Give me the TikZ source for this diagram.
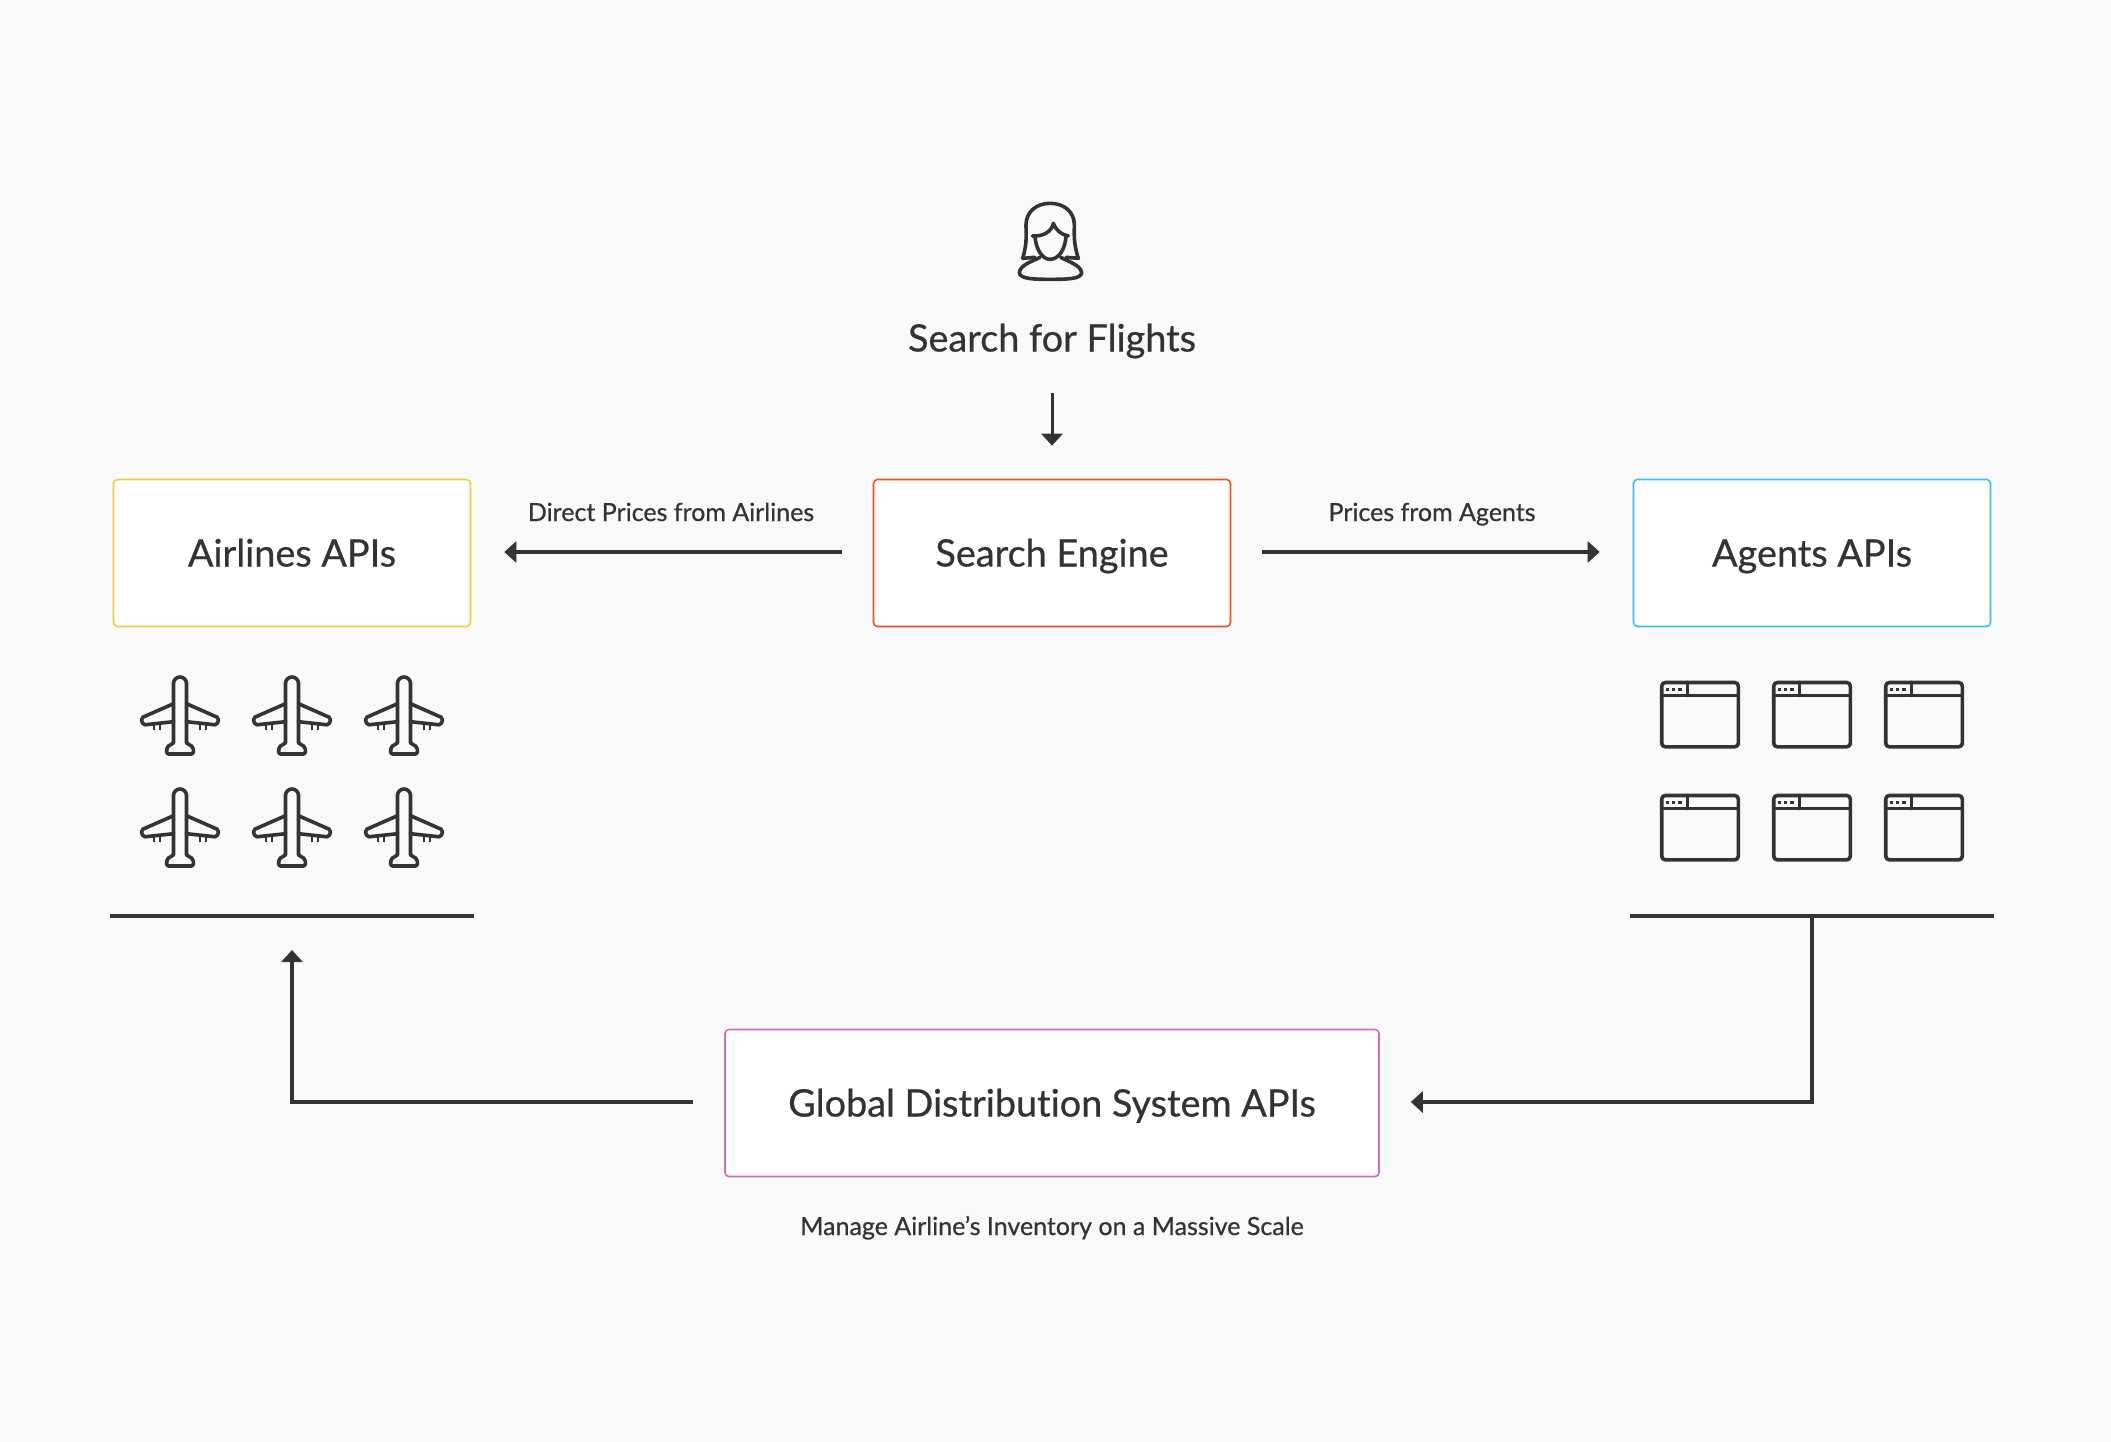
\documentclass[tikz,border=0pt]{standalone}
\usepackage{fontspec}
\setmainfont{Lato}
\newfontfamily\labelfont[RawFeature={embolden=0.6;-liga}]{Lato}
\usetikzlibrary{arrows.meta}
\definecolor{bg}{HTML}{F9F9F9}
\definecolor{ink}{HTML}{333333}
\definecolor{cyel}{HTML}{F0C93C}
\definecolor{cred}{HTML}{F04E23}
\definecolor{cblu}{HTML}{3DBDF0}
\definecolor{cmag}{HTML}{C96FBC}
\tikzset{
  x=1pt,y=-1pt,
  apibox/.style={draw,fill=white,line width=1.6pt,rounded corners=4pt,minimum width=357pt,minimum height=147pt,inner sep=0pt,text=ink,text height=27pt,text depth=0pt,font=\labelfont\fontsize{37.8}{42}\selectfont},
  heading/.style={text=ink,inner sep=0pt,text height=27pt,text depth=0pt,font=\labelfont\fontsize{37.8}{42}\selectfont},
  small/.style={text=ink,inner sep=0pt,text height=18pt,text depth=0pt,font=\labelfont\fontsize{25}{30}\selectfont},
  conn/.style={draw=ink,line width=4pt},
  arrowed/.style={conn,-{Triangle[length=12pt,width=21pt]}},
  ruleline/.style={draw=ink,line width=4pt},
  icon/.style={draw=ink,line width=3.6pt,line join=round,line cap=round},
  planeicon/.pic={
    \draw[icon,rounded corners=2pt] (-6.5,26.7) -- (-39,41) -- (-37,48) -- (-6.5,44.7);
    \draw[icon,rounded corners=2pt] (6.5,26.7) -- (39,41) -- (37,48) -- (6.5,44.7);
    \draw[icon] (-6.5,66) -- (-6.5,6.5) arc[start angle=180,end angle=360,radius=6.5] -- (6.5,66);
    \draw[icon,rounded corners=2pt] (-6.5,66) -- (-13.3,70) -- (-13.3,77) -- (13.3,77) -- (13.3,70) -- (6.5,66);
    \foreach \t in {-26,-20,20,26} \draw[icon,line width=2.6pt,line cap=butt] (\t,48) -- (\t,53);
  },
  windowicon/.pic={
    \draw[icon,rounded corners=3.5pt] (0,0) rectangle (76.6,64.3);
    \draw[icon] (0,13) -- (76.6,13);
    \draw[icon] (25.6,0) -- (25.6,13);
    \foreach \t in {6,12,18.3} \fill[ink] (\t-1.6,5) rectangle (\t+1.6,8.2);
  },
}
\begin{document}
\begin{tikzpicture}
\useasboundingbox[fill=bg] (0,0) rectangle (2111,1442);
% person
\begin{scope}[shift={(990,180)},x=0.3333pt,y=-0.3333pt]
  \draw[icon] (98,235) .. controls (112,190) and (108,160) .. (108,135) .. controls (108,95) and (140,70) .. (180,70) .. controls (222,70) and (253,95) .. (253,135) .. controls (253,160) and (250,190) .. (265,235) -- (228,232);
  \draw[icon] (98,235) -- (135,232);
  \draw[icon] (127,168) .. controls (160,170) and (185,155) .. (190,130) .. controls (197,150) and (215,165) .. (235,168);
  \draw[icon] (135,172) .. controls (140,215) and (160,238) .. (180,238) .. controls (205,238) and (225,210) .. (228,170);
  \draw[icon] (150,232) .. controls (125,245) and (90,255) .. (88,278) .. controls (88,298) and (140,298) .. (180,298) .. controls (225,298) and (275,298) .. (275,278) .. controls (272,255) and (235,245) .. (212,232);
\end{scope}
\node[heading] (search) at (1052,338) {Search for Flights};
\node[apibox,draw=cyel] (airlines) at (292,553) {Airlines APIs};
\node[apibox,draw=cred] (engine) at (1052,553) {Search Engine};
\node[apibox,draw=cblu] (agents) at (1812,553) {Agents APIs};
\node[apibox,draw=cmag,minimum width=654pt] (gds) at (1052,1103) {Global Distribution System APIs};
\node[small] (lblA) at (671,512) {Direct Prices from Airlines};
\node[small] (lblB) at (1432,512) {Prices from Agents};
\node[small] (lblC) at (1052,1226) {Manage Airline’s Inventory on a Massive Scale};
% icons
\foreach \cx in {180,292,404} \foreach \ty in {677,789} \pic at (\cx,\ty) {planeicon};
\foreach \lx in {1661.7,1773.7,1885.7} \foreach \ty in {682.5,795.5} \pic at (\lx,\ty) {windowicon};
% base lines
\coordinate (baseL) at (292,915.5);
\coordinate (baseR) at (1812,915.5);
\draw[ruleline] (110,915.5) -- (474,915.5);
\draw[ruleline] (1630,915.5) -- (1994,915.5);
% connectors
\draw[arrowed,line width=3pt] ([yshift=86pt]engine.north) -- ([yshift=33pt]engine.north);
\draw[arrowed] ([xshift=-31pt,yshift=1pt]engine.west) -- ([xshift=33pt,yshift=1pt]airlines.east);
\draw[arrowed] ([xshift=31pt,yshift=1pt]engine.east) -- ([xshift=-33pt,yshift=1pt]agents.west);
\draw[arrowed] (baseR) -- ([yshift=1pt]baseR |- gds.center) -- ([xshift=31pt,yshift=1pt]gds.east);
\draw[arrowed] ([xshift=-31pt,yshift=1pt]gds.west) -- ([yshift=1pt]baseL |- gds.west) -- ([yshift=-34.5pt]baseL);
\end{tikzpicture}
\end{document}
